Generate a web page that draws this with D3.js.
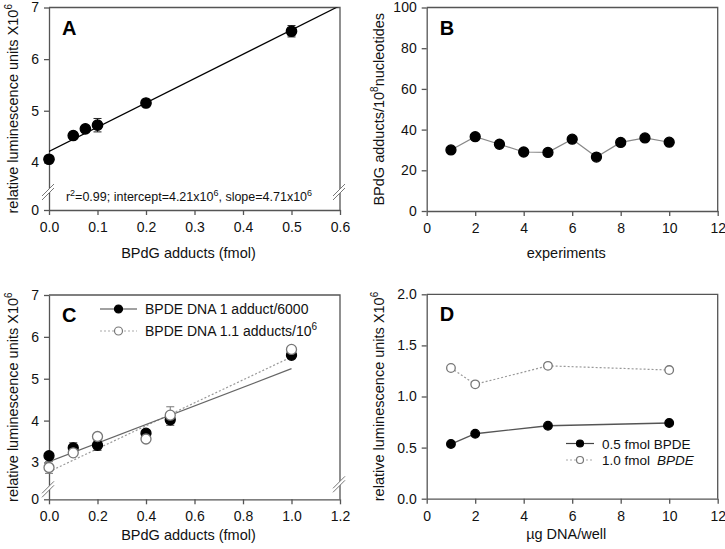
<!DOCTYPE html>
<html>
<head>
<meta charset="utf-8">
<script src="https://cdn.jsdelivr.net/npm/d3@7"></script>
<style>
  body { margin: 0; background: #fff; }
  svg { display: block; font-family: "Liberation Sans", Arial, sans-serif; }
  .axis path, .axis line { stroke: #555; }
  .axis text { fill: #111; font-size: 14px; font-family: "Liberation Sans", Arial, sans-serif; }
</style>
</head>
<body>
<script>
const WIDTH = 725, HEIGHT = 549;

// Panel A - calibration
const aX    = [0, 0.05, 0.075, 0.1, 0.2, 0.5];
const aY    = [4.06, 4.52, 4.65, 4.72, 5.15, 6.54];
const aErr  = [0.03, 0.05, 0.04, 0.13, 0.04, 0.11];
const aFit  = [4.21, 4.71];          // intercept, slope
const aXTicks = [0, 0.1, 0.2, 0.3, 0.4, 0.5, 0.6];
const aYTicks = [4, 5, 6, 7];

// Panel B - experiments
const bX = [1, 2, 3, 4, 5, 6, 7, 8, 9, 10];
const bY = [30, 36.5, 32.8, 29, 28.8, 35.3, 26.5, 33.7, 35.9, 33.8];
const bXTicks = [0, 2, 4, 6, 8, 10, 12];
const bYTicks = [0, 20, 40, 60, 80, 100];

// Panel C - two DNA standards
const cX     = [0, 0.1, 0.2, 0.4, 0.5, 1.0];
const cY1    = [3.16, 3.35, 3.41, 3.70, 4.02, 5.56];
const cErr1  = [0.04, 0.12, 0.12, 0.04, 0.13, 0.05];
const cY2    = [2.88, 3.23, 3.62, 3.56, 4.13, 5.70];
const cErr2  = [0.14, 0.04, 0.04, 0.04, 0.20, 0.05];
const cFit1  = [3.02, 2.22];
const cFit2  = [2.78, 2.74];
const cNames = ["BPDE DNA 1 adduct/6000", "BPDE DNA 1.1 adducts/10"];
const cXTicks = [0, 0.2, 0.4, 0.6, 0.8, 1.0, 1.2];
const cYTicks = [3, 4, 5, 6, 7];

// Panel D - DNA per well
const dX  = [1, 2, 5, 10];
const dY1 = [0.535, 0.636, 0.714, 0.74];
const dY2 = [1.279, 1.119, 1.30, 1.259];
const dXTicks = [0, 2, 4, 6, 8, 10, 12];
const dYTicks = [0, 0.5, 1.0, 1.5, 2.0];

const svg = d3.select("body").append("svg")
  .attr("width", WIDTH)
  .attr("height", HEIGHT);

// builds a frame with axes, returns the scales
function makePanel(p) {
  const x = d3.scaleLinear().domain(p.xDom).range([p.left, p.right]);
  const y = d3.scaleLinear().domain(p.yDom).range([p.bottom, p.top]);
  const g = svg.append("g");

  // top and right border of the box
  g.append("path")
    .attr("d", `M${p.left},${p.top}H${p.right}V${p.bottom}`)
    .attr("fill", "none").attr("stroke", "#555").attr("stroke-width", 1.3);

  const yTicks = p.yBreak ? [p.yDom[0]].concat(p.yTicks) : p.yTicks;
  g.append("g").attr("class", "axis")
    .attr("transform", `translate(0,${p.bottom})`)
    .call(d3.axisBottom(x).tickValues(p.xTicks).tickSize(5).tickSizeOuter(0)
      .tickPadding(7).tickFormat(p.xFmt));
  g.append("g").attr("class", "axis")
    .attr("transform", `translate(${p.left},0)`)
    .call(d3.axisLeft(y).tickValues(yTicks).tickSize(5).tickSizeOuter(0)
      .tickPadding(5).tickFormat(d => (p.yBreak && d === p.yDom[0]) ? "0" : p.yFmt(d)));
  g.selectAll(".axis path, .axis line").attr("stroke-width", 1.3);

  // axis break marks "//"
  if (p.yBreak) {
    [[p.left, p.bottom - p.yBreak[0]], [p.right, p.bottom - p.yBreak[1]]].forEach(([bx, by]) => {
      g.append("path")
        .attr("d", `M${bx - 7},${by + 5}L${bx + 5},${by - 7}L${bx + 5},${by - 3}L${bx - 7},${by + 9}Z`)
        .attr("fill", "#fff");
      g.append("path")
        .attr("d", `M${bx - 7},${by + 5}L${bx + 5},${by - 7}M${bx - 7},${by + 9}L${bx + 5},${by - 3}`)
        .attr("stroke", "#777").attr("stroke-width", 1);
    });
  }

  // panel letter
  g.append("text")
    .attr("x", p.left + 13).attr("y", p.top + 27)
    .style("font-size", "20px").style("font-weight", "bold")
    .text(p.letter);

  // x title
  g.append("text")
    .attr("x", (p.left + p.right) / 2 - 6).attr("y", p.xTitleY)
    .attr("text-anchor", "middle").style("font-size", "14.5px").attr("fill", "#111")
    .text(p.xTitle);

  // y title (rotated) with superscript
  const yt = g.append("text")
    .attr("transform", `translate(${p.left - p.yTitleOff},${(p.top + p.bottom) / 2}) rotate(-90)`)
    .attr("text-anchor", "middle").style("font-size", "14.5px").attr("fill", "#111");
  yt.append("tspan").text(p.yTitle[0]);
  yt.append("tspan").attr("dy", -6).style("font-size", "10px").text(p.yTitle[1]);
  if (p.yTitle[2]) yt.append("tspan").attr("dy", 6).text(p.yTitle[2]);

  const clipId = "clip" + p.letter;
  g.append("clipPath").attr("id", clipId)
    .append("rect").attr("x", p.left).attr("y", p.top)
    .attr("width", p.right - p.left).attr("height", p.bottom - p.top);

  return { x, y, g, clip: `url(#${clipId})` };
}

function errorBars(pn, xs, ys, errs, color) {
  xs.forEach((v, i) => {
    const cx = pn.x(v), y0 = pn.y(ys[i] - errs[i]), y1 = pn.y(ys[i] + errs[i]);
    pn.g.append("path")
      .attr("d", `M${cx},${y0}V${y1}M${cx - 4},${y0}H${cx + 4}M${cx - 4},${y1}H${cx + 4}`)
      .attr("stroke", color).attr("stroke-width", 1).attr("fill", "none");
  });
}

function dots(pn, xs, ys, r, filled) {
  pn.g.selectAll(null).data(xs).enter().append("circle")
    .attr("cx", d => pn.x(d))
    .attr("cy", (d, i) => pn.y(ys[i]))
    .attr("r", r)
    .attr("fill", filled ? "#000" : "#fff")
    .attr("stroke", filled ? "#000" : "#777")
    .attr("stroke-width", 1.3);
}

function fitLine(pn, fit, x0, x1, color, dash) {
  pn.g.append("line")
    .attr("clip-path", pn.clip)
    .attr("x1", pn.x(x0)).attr("y1", pn.y(fit[0] + fit[1] * x0))
    .attr("x2", pn.x(x1)).attr("y2", pn.y(fit[0] + fit[1] * x1))
    .attr("stroke", color).attr("stroke-width", 1.2)
    .attr("stroke-dasharray", dash);
}

// legend entry: line + marker + label
function legendRow(pn, lx, ly, len, filled, lineColor, dash, label, r, fs) {
  pn.g.append("line")
    .attr("x1", lx).attr("x2", lx + len).attr("y1", ly).attr("y2", ly)
    .attr("stroke", lineColor).attr("stroke-width", 1.2).attr("stroke-dasharray", dash);
  pn.g.append("circle").attr("cx", lx + len / 2).attr("cy", ly).attr("r", r)
    .attr("fill", filled ? "#000" : "#fff").attr("stroke", filled ? "#000" : "#777")
    .attr("stroke-width", 1.2);
  const t = pn.g.append("text").attr("x", lx + len + 8).attr("y", ly + 5)
    .style("font-size", fs + "px").attr("fill", "#111");
  label(t);
}

const f1 = d3.format(".1f"), f0 = d3.format("d");

// ---- Panel A
const pA = makePanel({
  letter: "A", left: 49, right: 340, top: 7.5, bottom: 210,
  xDom: [0, 0.6], yDom: [3.077, 7], yBreak: [19, 19],
  xTicks: aXTicks, yTicks: aYTicks, xFmt: f1, yFmt: f0,
  xTitle: "BPdG adducts (fmol)", xTitleY: 258,
  yTitle: ["relative luminescence units X10", "6"], yTitleOff: 31
});
fitLine(pA, aFit, 0, 0.6, "#000", null);
errorBars(pA, aX, aY, aErr, "#222");
dots(pA, aX, aY, 5.2, true);
const ann = pA.g.append("text").attr("x", 189).attr("y", 200.5)
  .attr("text-anchor", "middle").style("font-size", "12.5px").attr("fill", "#111");
ann.append("tspan").text("r");
ann.append("tspan").attr("dy", -5).style("font-size", "9px").text("2");
ann.append("tspan").attr("dy", 5).text("=0.99; intercept=4.21x10");
ann.append("tspan").attr("dy", -5).style("font-size", "9px").text("6");
ann.append("tspan").attr("dy", 5).text(", slope=4.71x10");
ann.append("tspan").attr("dy", -5).style("font-size", "9px").text("6");

// ---- Panel B
const pB = makePanel({
  letter: "B", left: 426.7, right: 717.7, top: 7.5, bottom: 211,
  xDom: [0, 12], yDom: [0, 100],
  xTicks: bXTicks, yTicks: bYTicks, xFmt: f0, yFmt: f0,
  xTitle: "experiments", xTitleY: 258,
  yTitle: ["BPdG adducts/10", "8", "nucleotides"], yTitleOff: 43
});
pB.g.append("path")
  .datum(bX)
  .attr("d", d3.line().x(d => pB.x(d)).y((d, i) => pB.y(bY[i])))
  .attr("fill", "none").attr("stroke", "#888").attr("stroke-width", 1.2);
dots(pB, bX, bY, 5, true);

// ---- Panel C
const pC = makePanel({
  letter: "C", left: 49, right: 340, top: 295, bottom: 499.3,
  xDom: [0, 1.2], yDom: [2.12, 7], yBreak: [11, 16],
  xTicks: cXTicks, yTicks: cYTicks, xFmt: f1, yFmt: f0,
  xTitle: "BPdG adducts (fmol)", xTitleY: 540,
  yTitle: ["relative luminescence units X10", "6"], yTitleOff: 31
});
fitLine(pC, cFit2, 0, 1.0, "#999", "2,2");
fitLine(pC, cFit1, 0, 1.0, "#666", null);
errorBars(pC, cX, cY1, cErr1, "#333");
errorBars(pC, cX, cY2, cErr2, "#777");
dots(pC, cX, cY1, 5, true);
dots(pC, cX, cY2, 5, false);
legendRow(pC, 100, 309, 37, true, "#444", null, t => t.text(cNames[0]), 4, 14);
legendRow(pC, 100, 331, 37, false, "#aaa", "2,2", t => {
  t.append("tspan").text(cNames[1]);
  t.append("tspan").attr("dy", -6).style("font-size", "10px").text("6");
}, 4, 14);

// ---- Panel D
const pD = makePanel({
  letter: "D", left: 426.7, right: 717.7, top: 294.3, bottom: 498.7,
  xDom: [0, 12], yDom: [0, 2],
  xTicks: dXTicks, yTicks: dYTicks, xFmt: f0, yFmt: f1,
  xTitle: "µg DNA/well", xTitleY: 539,
  yTitle: ["relative luminescence units X10", "6"], yTitleOff: 43
});
pD.g.append("path").datum(dX)
  .attr("d", d3.line().x(d => pD.x(d)).y((d, i) => pD.y(dY2[i])))
  .attr("fill", "none").attr("stroke", "#999").attr("stroke-width", 1.2).attr("stroke-dasharray", "2,2");
pD.g.append("path").datum(dX)
  .attr("d", d3.line().x(d => pD.x(d)).y((d, i) => pD.y(dY1[i])))
  .attr("fill", "none").attr("stroke", "#555").attr("stroke-width", 1.4);
dots(pD, dX, dY1, 4.3, true);
dots(pD, dX, dY2, 4.3, false);
legendRow(pD, 566, 443.5, 28, true, "#444", null, t => t.text("0.5 fmol BPDE"), 3.5, 13.5);
legendRow(pD, 566, 460, 28, false, "#aaa", "2,2", t => {
  t.append("tspan").text("1.0 fmol");
  t.append("tspan").attr("dx", 7).style("font-style", "italic").text("BPDE");
}, 3.5, 13.5);
</script>
</body>
</html>
